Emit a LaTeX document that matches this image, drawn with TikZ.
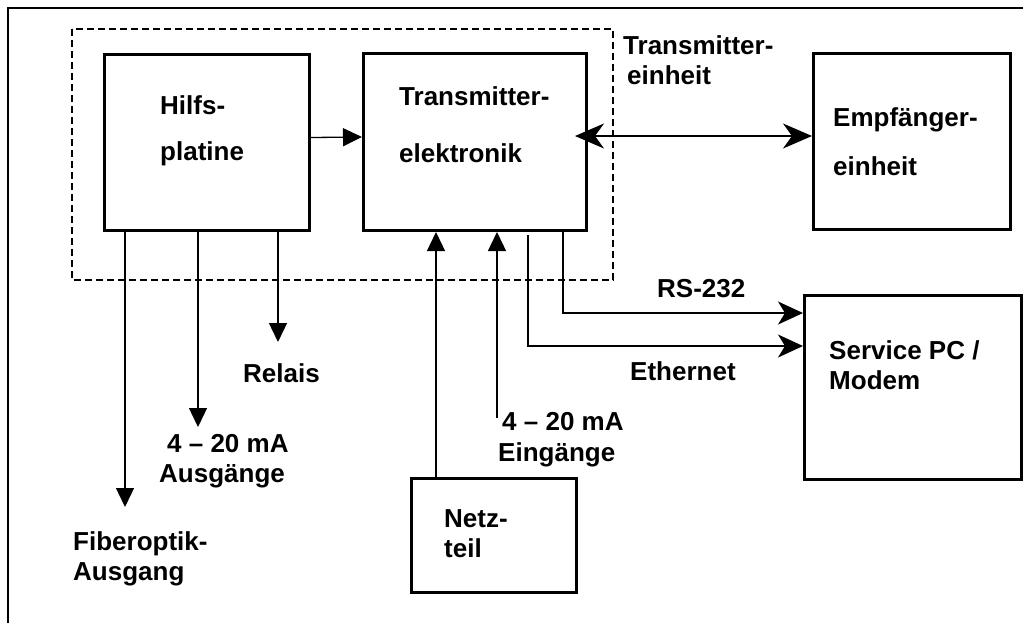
\documentclass[tikz,border=0pt]{standalone}
\usepackage{fontspec}
\setmainfont{Liberation Sans}
\usetikzlibrary{arrows.meta}
\begin{document}
\begin{tikzpicture}[x=1pt,y=-1pt,
  box/.style={draw,line width=3pt,inner sep=0pt,anchor=north west},
  txt/.style={anchor=base west,inner sep=0pt,font=\fontsize{26}{30}\selectfont\bfseries},
  conn/.style={line width=1.3pt},
  tri/.style={conn,-{Triangle[length=19pt,width=18pt]}},
  stl/.style={conn,-{Stealth[length=25pt,width=23pt,inset=7pt]}},
  dstl/.style={conn,{Stealth[length=29pt,width=25pt,inset=9pt]}-{Stealth[length=29pt,width=25pt,inset=9pt]}},
  grp/.style={line width=1.5pt,dash pattern=on 7pt off 4pt}]
\useasboundingbox (0,0) rectangle (1023,622);
% outer frame (clipped by page)
\draw[line width=2pt] (8,660) -- (8,8) -- (1060,8);
% group
\draw[grp] (72,29) rectangle (613,280);
% boxes
\node[box,minimum width=205pt,minimum height=176pt] (hilfs) at (103,53) {};
\node[box,minimum width=223pt,minimum height=177pt] (trans) at (362,52) {};
\node[box,minimum width=197pt,minimum height=176pt] (empf) at (812,52) {};
\node[box,minimum width=217pt,minimum height=184pt] (pc) at (803,294) {};
\node[box,minimum width=165pt,minimum height=114pt] (netz) at (410,477) {};
% texts
\node[txt] (t1) at (160,114) {Hilfs-};
\node[txt] (t2) at (160,160) {platine};
\node[txt] (t3) at (399,105) {Transmitter-};
\node[txt] (t4) at (399,162) {elektronik};
\node[txt] (t5) at (623,54) {Transmitter-};
\node[txt] (t6) at (627,84) {einheit};
\node[txt] (t7) at (833,126) {Empfänger-};
\node[txt] (t8) at (833,175) {einheit};
\node[txt] (t9) at (829,359) {Service PC /};
\node[txt] (t10) at (829,389) {Modem};
\node[txt] (t11) at (444,527) {Netz-};
\node[txt] (t12) at (444,557) {teil};
\node[txt] (t13) at (657,297) {RS-232};
\node[txt] (t14) at (630,380) {Ethernet};
\node[txt] (t15) at (502,430) {4 – 20 mA};
\node[txt] (t16) at (498,461) {Eingänge};
\node[txt] (t17) at (243,382) {Relais};
\node[txt] (t18) at (167,452) {4 – 20 mA};
\node[txt] (t19) at (159,482) {Ausgänge};
\node[txt] (t20) at (73,550) {Fiberoptik-};
\node[txt] (t21) at (73,580) {Ausgang};
% helper coordinates
\coordinate (cfo) at (125,507);
\coordinate (cao) at (198,427);
\coordinate (crl) at (278,342);
\coordinate (cnt) at (436,300);
\coordinate (cein) at (497,418);
\coordinate (ceth) at (528,346);
\coordinate (crs) at (563,313);
\coordinate (cdx) at (575,136);
% connectors
\draw[tri] ([yshift=5pt]hilfs.east) -- ([yshift=5pt]trans.west);
\draw[dstl] (cdx) -- (cdx -| empf.west);
\draw[tri] (hilfs.south -| cfo) -- (cfo);
\draw[tri] (hilfs.south -| cao) -- (cao);
\draw[tri] (hilfs.south -| crl) -- (crl);
\draw[tri] (netz.north -| cnt) -- (trans.south -| cnt);
\draw[tri] (cein) -- (trans.south -| cein);
\draw[stl] (trans.south -| crs) -- (crs) -- (crs -| pc.west);
\draw[stl] ([yshift=-3pt]trans.south -| ceth) -- (ceth) -- (ceth -| pc.west);
\end{tikzpicture}
\end{document}
